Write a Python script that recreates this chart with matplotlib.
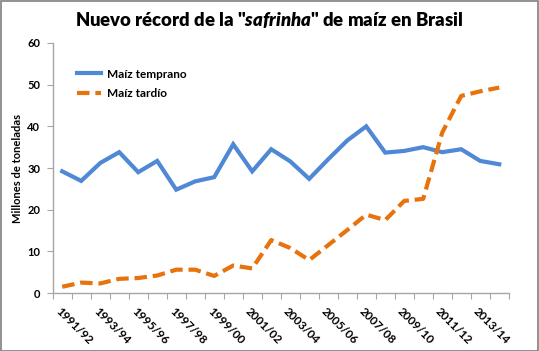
import matplotlib
matplotlib.use("Agg")
import matplotlib.pyplot as plt
from matplotlib.patches import Rectangle

seasons = ["1991/92", "1992/93", "1993/94", "1994/95", "1995/96", "1996/97",
           "1997/98", "1998/99", "1999/00", "2000/01", "2001/02", "2002/03",
           "2003/04", "2004/05", "2005/06", "2006/07", "2007/08", "2008/09",
           "2009/10", "2010/11", "2011/12", "2012/13", "2013/14", "2014/15"]
temprano = [29.2, 26.9, 31.2, 33.8, 29.0, 31.7, 24.8, 26.8, 27.8, 35.7, 29.2, 34.5,
            31.6, 27.4, 32.1, 36.6, 40.0, 33.7, 34.1, 35.0, 33.8, 34.5, 31.7, 30.9]
tardio = [1.5, 2.5, 2.3, 3.4, 3.6, 4.2, 5.6, 5.6, 4.1, 6.6, 5.9, 12.7,
          10.8, 7.9, 11.5, 15.1, 18.8, 17.5, 22.1, 22.6, 38.5, 47.3, 48.4, 49.3]
yticks = [0, 10, 20, 30, 40, 50, 60]

FONT = "Lato"
plt.rcParams["font.family"] = [FONT, "DejaVu Sans"]
plt.rcParams["mathtext.fontset"] = "custom"
plt.rcParams["mathtext.it"] = f"{FONT}:italic:heavy"
plt.rcParams["mathtext.rm"] = f"{FONT}:heavy"

fig = plt.figure(figsize=(5.39, 3.51), dpi=100)
ax = fig.add_axes([0.0978, 0.1652, 0.9438 - 0.0978, 0.8775 - 0.1652])

x = list(range(len(seasons)))
ax.plot(x, temprano, color="#4F88D4", lw=3.0, solid_joinstyle="miter",
        label="Maíz temprano")
ax.plot(x, tardio, color="#E8720C", lw=3.0, linestyle=(0, (3.0, 1.4)),
        label="Maíz tardío")

ax.set_xlim(-0.5, len(seasons) - 0.5)
ax.set_ylim(0, 60)
ax.set_yticks(yticks)
ax.set_yticklabels([str(v) for v in yticks], fontsize=8, fontweight="bold")

ax.set_xticks([i + 0.5 for i in range(-1, len(seasons))])
ax.set_xticklabels([])
ax.tick_params(axis="x", length=4, color="#A6A6A6", direction="out")
ax.tick_params(axis="y", length=4, color="#A6A6A6", direction="out", pad=5)
for i in range(0, len(seasons), 2):
    ax.text(i - 0.05, -3.0, seasons[i], rotation=-45, rotation_mode="anchor",
            ha="left", va="top", fontsize=8.5, fontweight="bold",
            transform=ax.transData, clip_on=False)

for s in ["top", "right"]:
    ax.spines[s].set_visible(False)
for s in ["left", "bottom"]:
    ax.spines[s].set_color("#A6A6A6")
    ax.spines[s].set_linewidth(1.0)

ax.set_ylabel("Millones de toneladas", fontsize=8, fontweight="bold", labelpad=3)

leg = ax.legend(loc="upper left", bbox_to_anchor=(0.03, 0.94), frameon=False,
                handlelength=2.0, handletextpad=0.5, labelspacing=0.7,
                prop={"family": [FONT, "DejaVu Sans"], "weight": "bold", "size": 8.5})

fig.text(0.5, 0.943, 'Nuevo récord de la "$\\mathit{safrinha}$" de maíz en Brasil',
         ha="center", va="center", fontsize=13.3, fontweight="heavy")

fig.patches.append(Rectangle((0.001, 0.001), 0.997, 0.996, transform=fig.transFigure,
                             fill=False, edgecolor="#7F7F7F", lw=1.2))

fig.savefig("out.png", dpi=100)
